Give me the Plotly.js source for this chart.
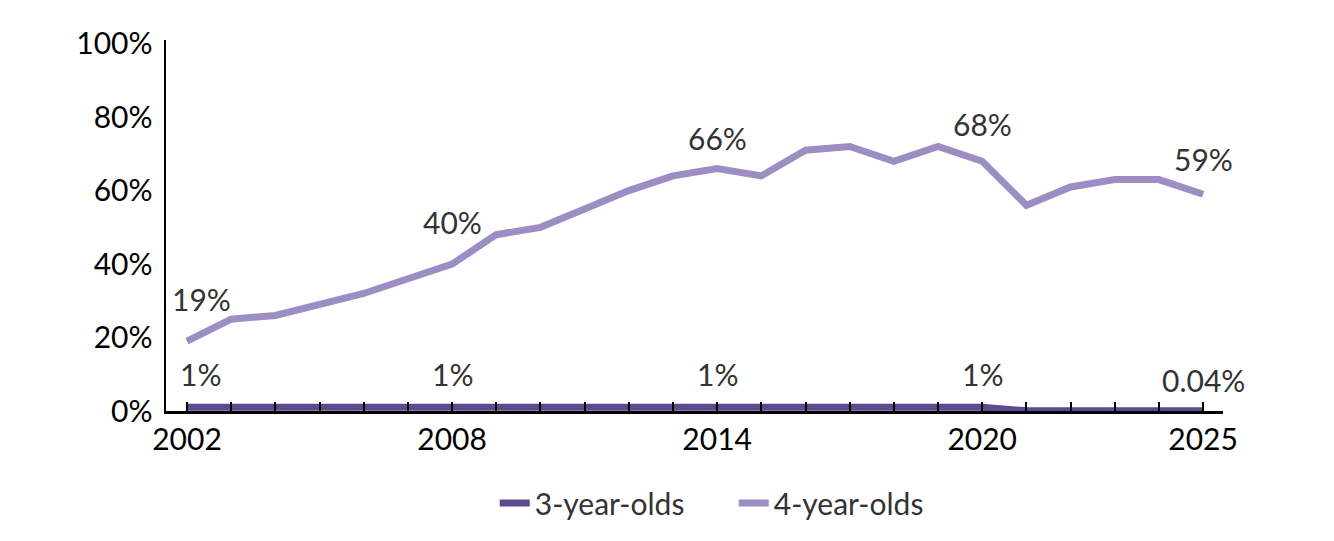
<!DOCTYPE html>
<html>
<head>
<meta charset="utf-8">
<script src="https://cdn.plot.ly/plotly-3.0.1.min.js"></script>
<style>html,body{margin:0;padding:0;background:#fff;}#chart{width:1334px;height:541px;}</style>
</head>
<body>
<div id="chart"></div>
<script>
// ---- data ----
var years = [2002,2003,2004,2005,2006,2007,2008,2009,2010,2011,2012,2013,2014,2015,2016,2017,2018,2019,2020,2021,2022,2023,2024,2025];
var threeYearOlds = [1,1,1,1,1,1,1,1,1,1,1,1,1,1,1,1,1,1,1,0.04,0.04,0.04,0.04,0.04];
var fourYearOlds = [19,25,26,29,32,36,40,48,50,55,60,64,66,64,71,72,68,72,68,56,61,63,63,59];
var tickLabelYears = [2002,2008,2014,2020,2025];
var fourLabelYears = [2002,2008,2014,2020,2025];
var fourLabelTexts = ['19%','40%','66%','68%','59%'];
var threeLabelYears = [2002,2008,2014,2020,2025];
var threeLabelTexts = ['1%','1%','1%','1%','0.04%'];
var seriesNames = ['3-year-olds','4-year-olds'];

// ---- styling ----
var FONT = 'Lato, "Open Sans", sans-serif';
var FS = 30;
var c3 = '#5d4a8c';
var c4 = '#9c8dc3';
var fourShift = [[15,42],[0,42],[0,31],[0,37],[0,35]];
var threeShift = [[14,33],[0,33],[0,33],[0,33],[0,31]];

function valueAt(arr, yr){ return arr[years.indexOf(yr)]; }

var annotations = [];
fourLabelYears.forEach(function(yr,i){
  annotations.push({x:yr, y:valueAt(fourYearOlds,yr), text:fourLabelTexts[i], showarrow:false,
    xanchor:'center', yanchor:'middle', xshift:fourShift[i][0], yshift:fourShift[i][1],
    font:{family:FONT,size:FS,color:'#333333'}});
});
threeLabelYears.forEach(function(yr,i){
  annotations.push({x:yr, y:valueAt(threeYearOlds,yr), text:threeLabelTexts[i], showarrow:false,
    xanchor:'center', yanchor:'middle', xshift:threeShift[i][0], yshift:threeShift[i][1],
    font:{family:FONT,size:FS,color:'#333333'}});
});

var tickText = years.map(function(y){ return tickLabelYears.indexOf(y) >= 0 ? String(y) : ''; });

var traces = [
  {x:years, y:threeYearOlds, name:seriesNames[0], type:'scatter', mode:'lines',
   line:{color:c3, width:7}, hoverinfo:'skip'},
  {x:years, y:fourYearOlds, name:seriesNames[1], type:'scatter', mode:'lines',
   line:{color:c4, width:7}, hoverinfo:'skip'}
];

var layout = {
  width:1334, height:541,
  margin:{l:166, r:111, t:40, b:130},
  paper_bgcolor:'#ffffff', plot_bgcolor:'#ffffff',
  font:{family:FONT, size:FS, color:'#000000'},
  showlegend:true,
  legend:{orientation:'h', x:0.311, xanchor:'left', y:-0.248, yanchor:'middle',
    font:{family:FONT, size:FS, color:'#333333'}, itemwidth:30, traceorder:'normal',
    entrywidth:194, entrywidthmode:'pixels'},
  xaxis:{range:[2001.525, 2025.45], tickmode:'array', tickvals:years, ticktext:tickText,
    showline:true, linecolor:'#000000', linewidth:2.5, showgrid:false, zeroline:false,
    ticks:'inside', ticklen:9, tickwidth:2, tickcolor:'#000000',
    tickfont:{family:FONT, size:FS, color:'#000000'}, fixedrange:true},
  yaxis:{range:[0,101], tickmode:'array', tickvals:[0,20,40,60,80,100],
    ticktext:['0%','20%','40%','60%','80%','100%'],
    showline:true, linecolor:'#000000', linewidth:2.5, showgrid:false, zeroline:false,
    ticks:'', ticklabelstandoff:5,
    tickfont:{family:FONT, size:FS, color:'#000000'}, fixedrange:true},
  annotations:annotations
};

Plotly.newPlot('chart', traces, layout, {displayModeBar:false, staticPlot:true});
</script>
</body>
</html>
